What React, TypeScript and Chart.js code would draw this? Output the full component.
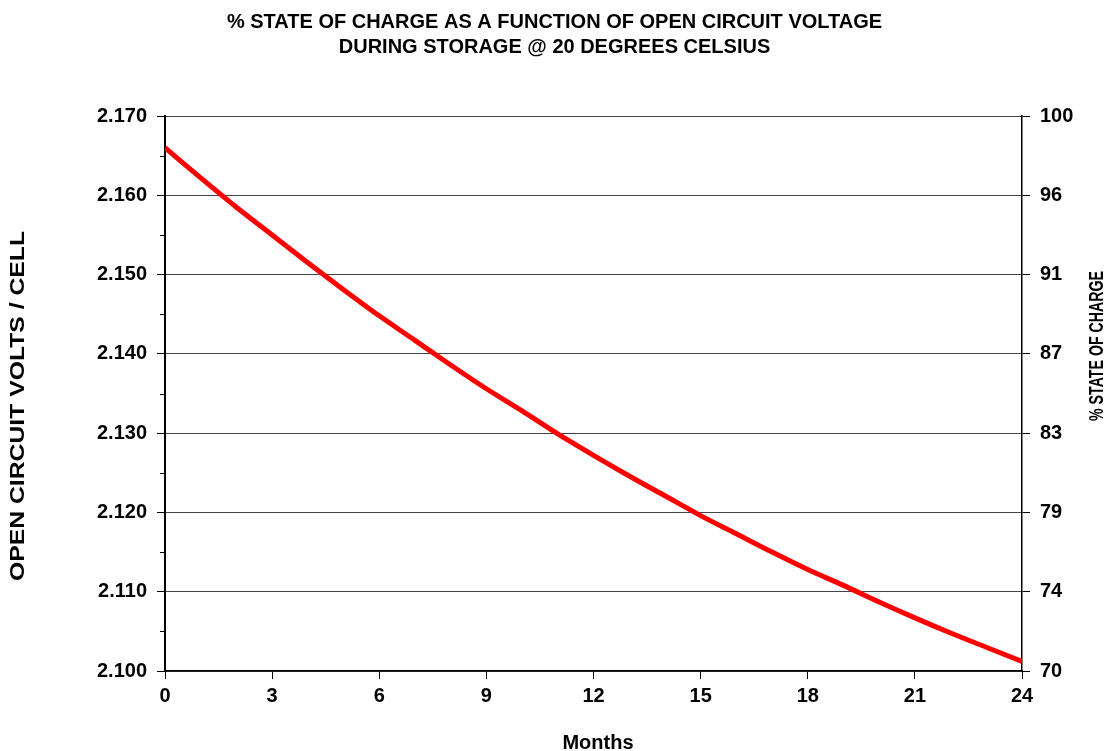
import React, { useEffect, useRef } from "react";
import { Chart, registerables } from "chart.js";

Chart.register(...registerables);

const months = [0, 1, 2, 3, 4, 5, 6, 7, 8, 9, 10, 11, 12, 13, 14, 15, 16, 17, 18, 19, 20, 21, 22, 23, 24];
const volts = [
  2.166, 2.1622, 2.1585, 2.155, 2.1515, 2.1481, 2.1448, 2.1417, 2.1386, 2.1356, 2.1328, 2.1299, 2.1272,
  2.1246, 2.1221, 2.1196, 2.1173, 2.115, 2.1128, 2.1108, 2.1087, 2.1067, 2.1048, 2.103, 2.1012,
];
const socTickLabels = ["70", "74", "79", "83", "87", "91", "96", "100"];
const titleLines = [
  "% STATE OF CHARGE AS A FUNCTION OF OPEN CIRCUIT VOLTAGE",
  "DURING STORAGE @ 20 DEGREES CELSIUS",
];
const leftTitle = "OPEN CIRCUIT VOLTS / CELL";
const rightTitle = "% STATE OF CHARGE";
const xTitle = "Months";

const FONT = "'Liberation Sans', Arial, sans-serif";

function drawVertical(ctx: any, text: string, x: number, y: number, size: number, targetLen?: number) {
  ctx.save();
  ctx.font = `bold ${size}px ${FONT}`;
  ctx.translate(x, y);
  ctx.rotate(-Math.PI / 2);
  if (targetLen) {
    const w = ctx.measureText(text).width;
    ctx.scale(targetLen / w, 1);
  }
  ctx.fillText(text, 0, 0);
  ctx.restore();
}

const extrasPlugin = {
  id: "extras",
  afterDraw(chart: any) {
    const ctx = chart.ctx;
    const y = chart.scales.y;
    const area = chart.chartArea;
    ctx.save();
    ctx.strokeStyle = "#000";
    ctx.lineWidth = 1;
    for (let v = 2.105; v < 2.17; v += 0.01) {
      const py = Math.round(y.getPixelForValue(v)) + 0.5;
      ctx.beginPath();
      ctx.moveTo(area.left - 5, py);
      ctx.lineTo(area.left, py);
      ctx.stroke();
    }
    ctx.fillStyle = "#000";
    ctx.textAlign = "center";
    ctx.textBaseline = "middle";
    drawVertical(ctx, leftTitle, 18, 406, 20, 350);
    drawVertical(ctx, rightTitle, 1097, 346, 20, 150);
    ctx.font = `bold 20px ${FONT}`;
    ctx.fillText(xTitle, 598, 743);
    ctx.restore();
  },
};

export default function App() {
  const ref = useRef<HTMLCanvasElement | null>(null);
  useEffect(() => {
    if (!ref.current) return;
    const tickFont = { family: FONT, size: 20, weight: "bold" };
    const chart = new Chart(ref.current, {
      type: "line",
      data: {
        datasets: [
          {
            data: months.map((m, i) => ({ x: m, y: volts[i] })),
            borderColor: "#ff0000",
            borderWidth: 5,
            pointRadius: 0,
            fill: false,
            cubicInterpolationMode: "monotone",
            yAxisID: "y",
            xAxisID: "x",
          },
        ],
      },
      plugins: [extrasPlugin],
      options: {
        animation: false,
        responsive: false,
        maintainAspectRatio: false,
        layout: { padding: 0 },
        plugins: {
          legend: { display: false },
          tooltip: { enabled: false },
          title: {
            display: true,
            text: titleLines,
            color: "#000",
            font: { family: FONT, size: 20, weight: "bold", lineHeight: 1.25 },
            padding: { top: 9.5, bottom: 56.5 },
          },
        },
        scales: {
          x: {
            type: "linear",
            position: "bottom",
            min: 0,
            max: 24,
            afterFit: (s: any) => {
              s.height = 80;
            },
            ticks: {
              stepSize: 3,
              color: "#000",
              padding: 5,
              maxRotation: 0,
              font: tickFont,
            },
            grid: {
              drawOnChartArea: false,
              drawTicks: true,
              tickLength: 8,
              tickColor: "#000",
              tickWidth: 1,
            },
            border: { display: true, color: "#000", width: 1.5 },
          },
          y: {
            type: "linear",
            position: "left",
            min: 2.1,
            max: 2.17,
            afterFit: (s: any) => {
              s.width = 165;
            },
            ticks: {
              stepSize: 0.01,
              color: "#000",
              padding: 10,
              font: tickFont,
              callback: (v: any) => Number(v).toFixed(3),
            },
            grid: {
              color: "#444",
              lineWidth: 1,
              drawTicks: true,
              tickLength: 8,
              tickColor: "#000",
            },
            border: { display: true, color: "#000", width: 2 },
          },
          y2: {
            type: "linear",
            position: "right",
            min: 70,
            max: 100,
            afterFit: (s: any) => {
              s.width = 87;
            },
            afterBuildTicks: (s: any) => {
              s.ticks = socTickLabels.map((_, i) => ({ value: 70 + (30 * i) / 7 }));
            },
            ticks: {
              color: "#000",
              padding: 10,
              font: tickFont,
              callback: (_v: any, i: number) => socTickLabels[i],
            },
            grid: {
              drawOnChartArea: false,
              drawTicks: true,
              tickLength: 8,
              tickColor: "#000",
            },
            border: { display: true, color: "#000", width: 1.5 },
          },
        },
      },
    } as any);
    return () => chart.destroy();
  }, []);
  return (
    <div style={{ position: "fixed", left: 0, top: 0, width: 1109, height: 751, background: "#fff" }}>
      <canvas ref={ref} width={1109} height={751} style={{ width: 1109, height: 751, display: "block" }} />
    </div>
  );
}
